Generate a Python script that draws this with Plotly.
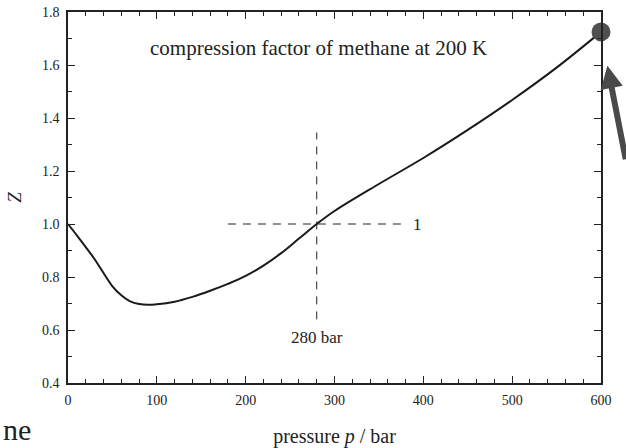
import plotly.graph_objects as go

pressure = [0, 10, 20, 30, 40, 50, 60, 70, 80, 90, 100, 120, 140, 160, 180, 200,
            220, 240, 260, 280, 300, 350, 400, 450, 500, 550, 600]
z_factor = [1.0, 0.957, 0.913, 0.867, 0.815, 0.765, 0.731, 0.708, 0.698, 0.695, 0.697,
            0.707, 0.725, 0.748, 0.774, 0.804, 0.843, 0.89, 0.945, 1.0, 1.049, 1.151,
            1.249, 1.355, 1.468, 1.59, 1.725]

cross_p = 280
hline_p = [180, 380]
vline_z = [0.64, 1.345]
x_ticks = [0, 100, 200, 300, 400, 500, 600]
y_ticks = [0.4, 0.6, 0.8, 1.0, 1.2, 1.4, 1.6, 1.8]

SERIF = "Liberation Serif, Times New Roman, serif"

fig = go.Figure()
fig.add_trace(go.Scatter(x=pressure, y=z_factor, mode="lines",
                         line=dict(color="#1a1a1a", width=2, shape="spline", smoothing=1.0),
                         showlegend=False, hoverinfo="skip"))
fig.add_trace(go.Scatter(x=hline_p, y=[1.0, 1.0], mode="lines",
                         line=dict(color="#222", width=1, dash="8px,7px"),
                         showlegend=False, hoverinfo="skip"))
fig.add_trace(go.Scatter(x=[cross_p, cross_p], y=vline_z, mode="lines",
                         line=dict(color="#222", width=1, dash="8px,7px"),
                         showlegend=False, hoverinfo="skip"))
# hand-drawn blob at the end of the curve
fig.add_trace(go.Scatter(x=[pressure[-1]], y=[z_factor[-1]], mode="markers",
                         marker=dict(color="#505050", size=19),
                         showlegend=False, hoverinfo="skip", cliponaxis=False))

fig.add_annotation(x=282, y=1.665, text="compression factor of methane at 200 K",
                   showarrow=False, font=dict(family=SERIF, size=21, color="#222"))
fig.add_annotation(x=386, y=1.0, text="1", showarrow=False, xanchor="left",
                   font=dict(family=SERIF, size=17, color="#222"))
fig.add_annotation(x=cross_p, y=0.57, text="280 bar", showarrow=False,
                   font=dict(family=SERIF, size=17, color="#222"))
fig.add_annotation(xref="paper", yref="paper", x=-0.126, y=-0.175, text="ne",
                   showarrow=False, xanchor="left", yanchor="bottom",
                   font=dict(family=SERIF, size=30, color="#222"))
# hand-drawn arrow pointing at the blob
fig.add_annotation(xref="paper", yref="paper", x=1.012, y=0.855,
                   ax=20, ay=95, axref="pixel", ayref="pixel",
                   text="", showarrow=True, arrowhead=2, arrowsize=0.75,
                   arrowwidth=6, arrowcolor="#4a4a4a")

fig.update_layout(
    width=626, height=448,
    margin=dict(l=68, r=25, t=12, b=65),
    paper_bgcolor="white", plot_bgcolor="white",
    font=dict(family=SERIF, color="#222"),
    xaxis=dict(range=[0, 600], tickvals=x_ticks, ticks="inside", ticklen=7,
               tickwidth=1, tickcolor="#222", showline=True, linecolor="#222",
               linewidth=1.5, mirror="allticks", showgrid=False, zeroline=False,
               automargin=False, tickfont=dict(size=14), ticklabelstandoff=3,
               minor=dict(dtick=20, ticks="inside", ticklen=4, tickcolor="#222", showgrid=False),
               title=dict(text="pressure <i>p</i> / bar", font=dict(size=20), standoff=28)),
    yaxis=dict(range=[0.4, 1.8], tickvals=y_ticks, tickformat=".1f", ticks="inside",
               ticklen=7, tickwidth=1, tickcolor="#222", showline=True, linecolor="#222",
               linewidth=1.5, mirror="allticks", showgrid=False, zeroline=False,
               automargin=False, tickfont=dict(size=14), ticklabelstandoff=4,
               minor=dict(dtick=0.1, ticks="inside", ticklen=4, tickcolor="#222", showgrid=False),
               title=dict(text="<i>Z</i>", font=dict(size=19), standoff=15)),
)

fig.write_html("out.html", config={"displayModeBar": False},
               post_script="document.body.style.margin='0';document.body.style.overflow='hidden';")
